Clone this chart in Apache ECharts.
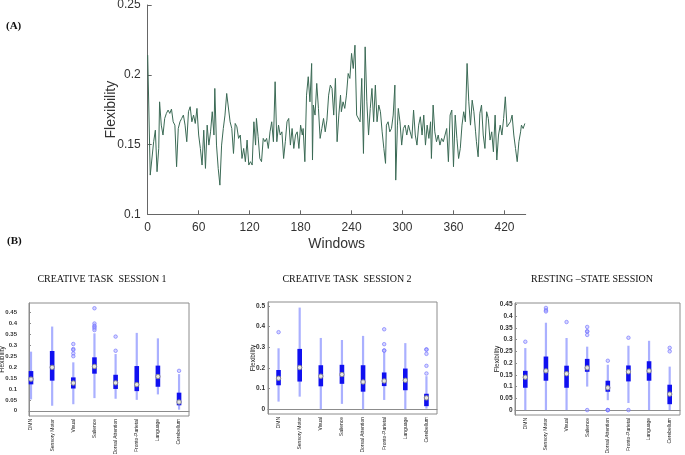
<!DOCTYPE html>
<html>
<head>
<meta charset="utf-8">
<script src="https://cdn.jsdelivr.net/npm/echarts@6/dist/echarts.min.js"></script>
<style>
html,body{margin:0;padding:0;background:#fff;}
#chart{width:685px;height:455px;}
</style>
</head>
<body>
<div id="chart"></div>
<script>
// ---------- Panel A: flexibility over windows ----------
var windows = [0,3,7,9,11,13,14,16,18,20,22,24,26,28,30,32,34,36,38,40,42,44,46,48,50,52,54,56,58,60,62,64,66,68,70,72,74,76,78,79,81,83,85,87,89,91,93,95,97,99,101,103,105,107,109,111,113,115,117,119,121,123,125,127,128,130,132,134,136,138,140,142,144,146,148,150,152,154,156,158,160,162,164,166,168,170,172,174,176,178,180,182,183,185,187,189,191,193,194,195,197,199,201,203,205,207,209,211,213,215,217,219,
221,223,225,227,228,230,232,234,236,238,240,242,244,246,248,250,252,254,256,258,260,262,264,266,268,270,272,274,276,278,280,281,283,285,287,289,291,292,294,295,297,299,301,303,305,307,309,311,313,315,317,319,321,323,325,327,329,331,333,334,336,338,340,342,344,346,348,350,352,354,356,358,360,362,364,366,368,370,372,374,376,378,380,382,384,386,387,389,391,393,395,397,399,401,403,405,407,409,411,413,415,417,419,421,423,425,427,429,431,433,435,437,439,440,442,444];
var flexibility = [0.2141,0.1281,0.1520,0.1603,0.1305,0.1472,0.1806,0.1639,0.1568,0.1687,0.1723,0.1747,0.1723,0.1754,0.1663,0.1639,0.1341,0.1615,0.1663,0.1687,0.1711,0.1639,0.1520,0.1735,0.1771,0.1663,0.1711,0.1651,0.1759,0.1568,0.1472,0.1353,0.1603,0.1329,0.1639,0.1496,0.1591,0.1735,0.1568,0.1902,0.1496,0.1329,0.1209,0.1496,0.1615,0.1711,0.1866,0.1866,0.1663,0.1615,0.1436,0.1651,0.1627,0.1544,0.1568,0.1400,0.1472,0.1377,0.1532,0.1353,0.1377,0.1353,0.1663,0.1496,0.1687,0.1556,0.1400,0.1377,0.1544,0.1520,0.1544,0.1472,0.1591,0.1663,0.1520,0.1950,0.1520,0.1639,0.1568,0.1591,0.1400,0.1520,0.1663,0.1687,0.1496,0.1615,0.1472,0.1568,0.1591,0.1472,0.1639,0.1568,0.1615,0.1377,0.1854,0.1986,0.1806,0.2081,0.1389,0.1783,0.1711,0.1938,0.1759,0.1544,0.1615,0.1687,0.1591,0.1675,0.1854,0.1926,0.1902,0.1711,
0.1974,0.1520,0.1711,0.1854,0.1735,0.1806,0.1759,0.1854,0.2009,0.1974,0.2153,0.2045,0.2212,0.1711,0.1723,0.1663,0.1974,0.1436,0.2200,0.1806,0.1568,0.1759,0.1902,0.1663,0.1926,0.1663,0.1783,0.1735,0.1591,0.1472,0.1365,0.1639,0.1663,0.1591,0.1615,0.1711,0.1926,0.1245,0.1639,0.1759,0.1663,0.1496,0.1615,0.1639,0.1568,0.1639,0.1591,0.1544,0.1747,0.1568,0.1496,0.1639,0.1699,0.1568,0.1711,0.1496,0.1639,0.1544,0.1663,0.1400,0.1783,0.1591,0.1520,0.1568,0.1496,0.1544,0.1520,0.1568,0.1615,0.1377,0.1711,0.1747,0.1341,0.1711,0.1544,0.1400,0.1472,0.1639,0.1735,0.1663,0.2081,0.1806,0.1639,0.1818,0.1735,0.1591,0.1520,0.1412,0.1723,0.1783,0.1568,0.1472,0.1735,0.1687,0.1532,0.1591,0.1448,0.1711,0.1389,0.1568,0.1639,0.1568,0.1687,0.1842,0.1627,0.1615,0.1663,0.1711,0.1568,0.1472,0.1377,0.1520,0.1591,0.1639,0.1615,0.1651];
var windowTicks = [0,60,120,180,240,300,360,420];

// ---------- Panel B: box statistics [min, q1, median, q3, max] ----------
var networks = ['DMN','Sensory Motor','Visual','Salience','Dorsal Attention','Fronto-Parietal','Language','Cerebellum'];
var networkPositions = [1,2,3,4,5,6,7,8];
var session1Stats = [
  [0.052,0.121,0.145,0.182,0.271],
  [0.023,0.138,0.199,0.274,0.386],
  [0.030,0.102,0.127,0.153,0.222],
  [0.058,0.170,0.203,0.245,0.355],
  [0.055,0.100,0.128,0.165,0.260],
  [0.050,0.090,0.120,0.205,0.357],
  [0.075,0.110,0.157,0.207,0.332],
  [0.005,0.025,0.040,0.083,0.168]
];
var session1Outliers = [[3,0.306],[3,0.283],[3,0.279],[3,0.263],[3,0.250],[4,0.470],[4,0.400],[4,0.390],[4,0.385],[4,0.378],[4,0.370],[5,0.340],[5,0.275],[8,0.183]];
var session2Stats = [
  [0.037,0.116,0.150,0.190,0.295],
  [0.061,0.134,0.202,0.292,0.492],
  [0.000,0.111,0.160,0.213,0.345],
  [0.026,0.123,0.168,0.215,0.335],
  [0.000,0.085,0.132,0.213,0.355],
  [0.045,0.112,0.137,0.178,0.275],
  [0.000,0.092,0.140,0.197,0.320],
  [0.003,0.015,0.055,0.075,0.160]
];
var session2Outliers = [[1,0.373],[6,0.387],[6,0.315],[6,0.285],[6,0.283],[8,0.290],[8,0.288],[8,0.268],[8,0.210],[8,0.173]];
var restStats = [
  [0.000,0.095,0.140,0.167,0.264],
  [0.000,0.125,0.167,0.228,0.372],
  [0.000,0.095,0.155,0.189,0.307],
  [0.100,0.163,0.180,0.218,0.270],
  [0.042,0.078,0.095,0.125,0.193],
  [0.030,0.122,0.163,0.190,0.274],
  [0.000,0.125,0.167,0.208,0.295],
  [0.000,0.025,0.068,0.108,0.185]
];
var restOutliers = [[1,0.291],[2,0.435],[2,0.425],[2,0.420],[3,0.375],[4,0.354],[4,0.336],[4,0.334],[4,0.320],[4,0.000],[5,0.210],[5,0.000],[5,0.000],[5,0.000],[6,0.308],[6,0.000],[8,0.265],[8,0.250]];
var ticks1 = [0,0.05,0.1,0.15,0.2,0.25,0.3,0.35,0.4,0.45];
var ticks2 = [0,0.1,0.2,0.3,0.4,0.5];
var ticks3 = [0,0.05,0.1,0.15,0.2,0.25,0.3,0.35,0.4,0.45];

var panelTitles = ['CREATIVE TASK  SESSION 1','CREATIVE TASK  SESSION 2','RESTING \u2013STATE SESSION'];

// ---------- build ----------
var chart = echarts.init(document.getElementById('chart'), null, {renderer:'canvas'});
var sans = 'Liberation Sans, Arial, sans-serif';
var serif = 'Liberation Serif, Times New Roman, serif';

var panels = [
  {grid:{left:29, top:303, width:160, height:113}, xmin:0.905, xmax:8.47, min:-0.024, max:0.494, ticks:ticks1, stats:session1Stats, out:session1Outliers, labelMargin:12, labelSize:6, nameGap:23.5},
  {grid:{left:268, top:302, width:169, height:112}, xmin:0.5, xmax:8.5, min:-0.023, max:0.519, ticks:ticks2, stats:session2Stats, out:session2Outliers, labelMargin:3, labelSize:6.5, nameGap:11.5},
  {grid:{left:515, top:303, width:165, height:112}, xmin:0.5, xmax:8.5, min:-0.021, max:0.456, ticks:ticks3, stats:restStats, out:restOutliers, labelMargin:2.5, labelSize:6.5, nameGap:14}
];

var grids = [{left:147.7, top:5, width:378, height:209.3, containLabel:false, outerBoundsMode:'none'}];
var xAxes = [{
  type:'value', gridIndex:0, min:0, max:445, interval:60,
  axisLine:{lineStyle:{color:'#666', width:1}},
  axisTick:{inside:true, length:4, lineStyle:{color:'#666'}, customValues:windowTicks},
  axisLabel:{color:'#333', fontSize:12, fontFamily:sans, margin:7, customValues:windowTicks},
  splitLine:{show:false},
  name:'Windows', nameLocation:'middle', nameGap:23, nameMoveOverlap:false,
  nameTextStyle:{color:'#333', fontSize:14, fontFamily:sans}
}];
var yAxes = [{
  type:'value', gridIndex:0, min:0.1, max:0.25, interval:0.05,
  axisLine:{show:true, lineStyle:{color:'#666', width:1}},
  axisTick:{show:true, inside:true, length:4, lineStyle:{color:'#666'}},
  axisLabel:{color:'#333', fontSize:12, fontFamily:sans, margin:7},
  splitLine:{show:false},
  name:'Flexibility', nameLocation:'middle', nameGap:30, nameMoveOverlap:false,
  nameTextStyle:{color:'#333', fontSize:14, fontFamily:sans}
}];
var series = [{
  type:'line', xAxisIndex:0, yAxisIndex:0,
  data: windows.map(function(w,i){return [w, flexibility[i]];}),
  showSymbol:false, symbol:'none',
  lineStyle:{color:'#3b6a55', width:1},
  animation:false
}];

panels.forEach(function(p, k){
  var gi = k + 1;
  grids.push(Object.assign({show:true, borderColor:'#8c8c8c', borderWidth:1, backgroundColor:'transparent', containLabel:false, outerBoundsMode:'none'}, p.grid));
  xAxes.push({
    type:'value', gridIndex:gi, min:p.xmin, max:p.xmax,
    axisLine:{lineStyle:{color:'#8c8c8c'}},
    axisTick:{show:false},
    splitLine:{show:false},
    axisLabel:{rotate:90, fontSize:5, color:'#222', fontFamily:sans, margin:3,
      customValues:networkPositions,
      formatter:function(v){ return networks[Math.round(v)-1] || ''; }}
  });
  yAxes.push({
    type:'value', gridIndex:gi, min:p.min, max:p.max,
    axisLine:{show:true, lineStyle:{color:'#8c8c8c'}},
    axisTick:{show:true, inside:true, length:2, lineStyle:{color:'#8c8c8c'}, customValues:p.ticks},
    axisLabel:{fontSize:p.labelSize, color:'#333', fontFamily:sans, fontWeight:'bold', margin:p.labelMargin, customValues:p.ticks},
    splitLine:{show:false},
    name:'Flexibility', nameLocation:'middle', nameGap:p.nameGap, nameMoveOverlap:false,
    nameTextStyle:{fontSize:6.5, color:'#222', fontFamily:sans}
  });
  series.push({
    type:'custom', xAxisIndex:gi, yAxisIndex:gi,
    data: p.stats.map(function(s,i){return [networkPositions[i], s[0], s[1], s[2], s[3], s[4]];}),
    encode:{x:0, y:[1,2,3,4,5]},
    renderItem:function(params, api){
      var i = api.value(0);
      var pMin = api.coord([i, api.value(1)]);
      var pQ1 = api.coord([i, api.value(2)]);
      var pMed = api.coord([i, api.value(3)]);
      var pQ3 = api.coord([i, api.value(4)]);
      var pMax = api.coord([i, api.value(5)]);
      return {type:'group', children:[
        {type:'line', shape:{x1:pMin[0], y1:pMin[1], x2:pMax[0], y2:pMax[1]}, style:{stroke:'#aab0ff', lineWidth:2.2}},
        {type:'rect', shape:{x:pQ3[0]-2.3, y:pQ3[1], width:4.6, height:pQ1[1]-pQ3[1]}, style:{fill:'#1010f0'}},
        {type:'circle', shape:{cx:pMed[0], cy:pMed[1], r:2.2}, style:{fill:'#e6e6e6', stroke:'#8a8a8a', lineWidth:1}}
      ]};
    },
    animation:false
  });
  series.push({
    type:'scatter', xAxisIndex:gi, yAxisIndex:gi,
    data:p.out,
    symbol:'circle', symbolSize:3.5,
    itemStyle:{color:'rgba(170,170,255,0.6)', borderColor:'#6f6fff', borderWidth:0.8},
    animation:false
  });
});

var graphics = [
  {type:'text', left:6, top:21, style:{text:'(A)', font:'bold 11px ' + serif, fill:'#111'}},
  {type:'text', left:7, top:236, style:{text:'(B)', font:'bold 11px ' + serif, fill:'#111'}},
  {type:'text', x:102, y:279, style:{text:panelTitles[0], font:'10px ' + serif, fill:'#111', textAlign:'center', textVerticalAlign:'middle'}},
  {type:'text', x:347, y:279, style:{text:panelTitles[1], font:'10px ' + serif, fill:'#111', textAlign:'center', textVerticalAlign:'middle'}},
  {type:'text', x:592, y:279, style:{text:panelTitles[2], font:'10px ' + serif, fill:'#111', textAlign:'center', textVerticalAlign:'middle'}}
];

chart.setOption({
  animation:false,
  backgroundColor:'#fff',
  grid:grids, xAxis:xAxes, yAxis:yAxes, series:series, graphic:graphics
});
</script>
</body>
</html>
